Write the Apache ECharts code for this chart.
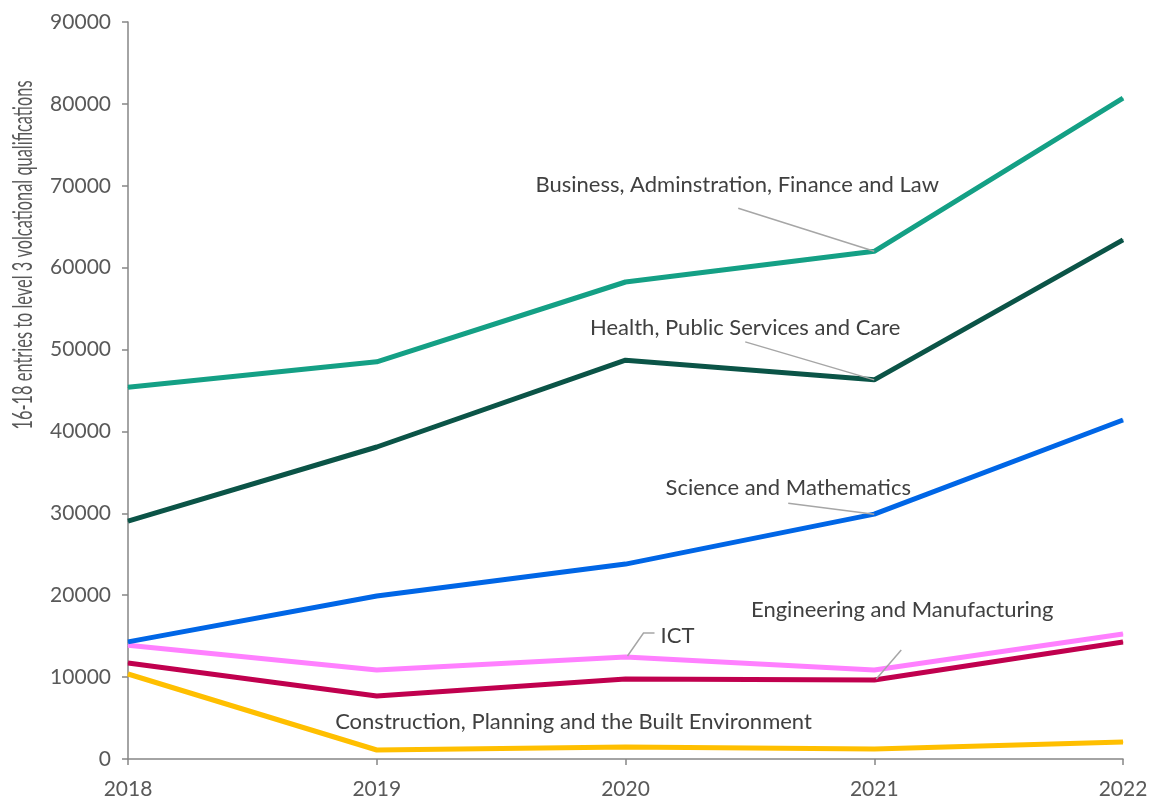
<!DOCTYPE html>
<html>
<head>
<meta charset="utf-8">
<script src="https://cdn.jsdelivr.net/npm/echarts@6/dist/echarts.min.js"></script>
<style>
  html, body { margin: 0; padding: 0; background: #fff; }
  #chart { width: 1152px; height: 801px; }
</style>
</head>
<body>
<div id="chart"></div>
<script>
// Chart data
const years = ['2018', '2019', '2020', '2021', '2022'];
const business = [45400, 48500, 58250, 62000, 80700];
const health = [29050, 38100, 48700, 46300, 63400];
const science = [14300, 19900, 23800, 29900, 41400];
const ict = [13900, 10870, 12450, 10870, 15260];
const engineering = [11720, 7690, 9770, 9650, 14290];
const construction = [10380, 1100, 1470, 1220, 2080];

const yTicks = [0, 10000, 20000, 30000, 40000, 50000, 60000, 70000, 80000, 90000];
const yTitle = '16-18 entries to level 3 volcational qualifications';

const FONT = 'Lato, "Open Sans", sans-serif';

// at: point that carries the label, dx/dy: label shift,
// lead: leader line points relative to that point (null = no leader)
const seriesDefs = [
  { name: 'Construction, Planning and the Built Environment', data: construction, color: '#FFBF00', at: 2, dx: -52, dy: -9, lead: null },
  { name: 'Engineering and Manufacturing', data: engineering, color: '#C0004E', at: 3, dx: 28, dy: -54, lead: [[27, -30], [2, -1]] },
  { name: 'ICT', data: ict, color: '#FF80FF', at: 2, dx: 52, dy: -5, lead: [[29, -24], [18, -24], [2, -1]] },
  { name: 'Science and Mathematics', data: science, color: '#0066E6', at: 3, dx: -86, dy: -10, lead: [[-86, -11], [0, 0]] },
  { name: 'Health, Public Services and Care', data: health, color: '#0B5447', at: 3, dx: -129, dy: -35, lead: [[-129, -38], [0, 0]] },
  { name: 'Business, Adminstration, Finance and Law', data: business, color: '#14A085', at: 3, dx: -137, dy: -50, lead: [[-136, -43], [0, 0]] },
];

function buildSeries(def) {
  return {
    name: def.name,
    type: 'line',
    symbol: 'circle',
    symbolSize: 1,
    itemStyle: { color: def.color },
    lineStyle: { color: def.color, width: 5 },
    emphasis: { disabled: true },
    data: def.data.map((v, i) => i === def.at
      ? { value: v, label: { show: true, formatter: def.name } }
      : v),
    label: {
      show: false,
      position: 'top',
      color: '#404040',
      fontFamily: FONT,
      fontSize: 22,
    },
    labelLayout: params => params.dataIndex === def.at ? { dx: def.dx, dy: def.dy } : {},
  };
}

const chart = echarts.init(document.getElementById('chart'), null, { renderer: 'canvas' });

chart.setOption({
  animation: false,
  grid: { left: 128, right: 29, top: 22, bottom: 42, containLabel: false },
  xAxis: {
    type: 'category',
    data: years,
    boundaryGap: false,
    axisLine: { lineStyle: { color: '#868686', width: 1.5 } },
    axisTick: { show: true, length: 6, lineStyle: { color: '#868686', width: 1.5 } },
    axisLabel: { color: '#595959', fontFamily: FONT, fontSize: 21, margin: 20 },
  },
  yAxis: {
    type: 'value',
    min: yTicks[0],
    max: yTicks[yTicks.length - 1],
    interval: 10000,
    splitLine: { show: false },
    axisLine: { show: true, lineStyle: { color: '#868686', width: 1.5 } },
    axisTick: { show: true, length: 6, lineStyle: { color: '#868686', width: 1.5 } },
    axisLabel: {
      color: '#595959', fontFamily: FONT, fontSize: 21, margin: 17,
      formatter: v => String(v),
    },
  },
  series: seriesDefs.map(buildSeries),
});

// Leader lines: anchored on the data point through the chart's own scales
const leaders = [];
seriesDefs.forEach((def, i) => {
  if (!def.lead) return;
  const p = chart.convertToPixel({ seriesIndex: i }, [def.at, def.data[def.at]]);
  leaders.push({
    type: 'polyline',
    z: 10,
    shape: { points: def.lead.map(([ox, oy]) => [p[0] + ox, p[1] + oy]) },
    style: { stroke: '#A6A6A6', lineWidth: 1.5, fill: null },
  });
});

chart.setOption({
  graphic: [
    {
      type: 'text',
      x: 24,
      y: 255,
      rotation: Math.PI / 2,
      scaleX: 0.63,
      style: {
        text: yTitle,
        fill: '#595959',
        font: '26px ' + FONT,
        align: 'center',
        verticalAlign: 'middle',
      },
    },
    ...leaders,
  ],
});
</script>
</body>
</html>
